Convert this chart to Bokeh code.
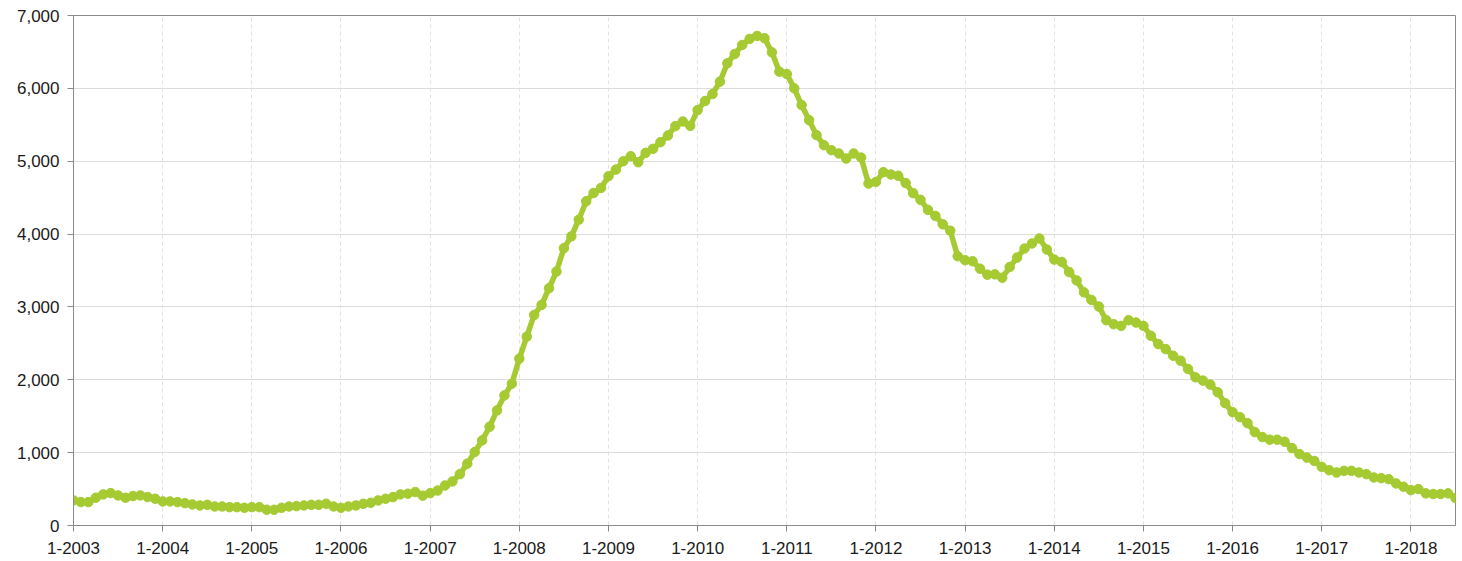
from bokeh.plotting import figure
from bokeh.models import Range1d, FixedTicker, NumeralTickFormatter, ColumnDataSource
from bokeh.embed import file_html
from bokeh.resources import INLINE

years = [str(y) for y in range(2003, 2019)]
tick_labels = ["1-" + y for y in years]

v2003 = [344, 321, 321, 381, 427, 445, 413, 381, 404, 413, 390, 367]
v2004 = [330, 330, 321, 307, 289, 275, 284, 261, 261, 252, 252, 243]
v2005 = [252, 252, 216, 216, 243, 261, 266, 275, 284, 284, 298, 261]
v2006 = [243, 261, 275, 298, 312, 344, 367, 390, 427, 436, 459, 410]
v2007 = [444, 480, 549, 604, 705, 848, 1008, 1168, 1356, 1580, 1786, 1947]
v2008 = [2290, 2592, 2890, 3028, 3257, 3486, 3807, 3968, 4197, 4450, 4564, 4633]
v2009 = [4794, 4885, 5000, 5069, 4986, 5115, 5170, 5261, 5353, 5482, 5545, 5486]
v2010 = [5702, 5826, 5922, 6092, 6344, 6472, 6596, 6679, 6720, 6688, 6495, 6229]
v2011 = [6197, 6000, 5771, 5564, 5358, 5220, 5151, 5106, 5037, 5106, 5050, 4693]
v2012 = [4716, 4850, 4818, 4800, 4700, 4562, 4470, 4332, 4249, 4134, 4046, 3696]
v2013 = [3641, 3627, 3525, 3442, 3447, 3401, 3548, 3677, 3802, 3871, 3940, 3788]
v2014 = [3650, 3618, 3479, 3364, 3200, 3096, 3005, 2818, 2763, 2740, 2818, 2786]
v2015 = [2740, 2604, 2490, 2421, 2330, 2262, 2148, 2034, 1989, 1934, 1829, 1679]
v2016 = [1556, 1487, 1405, 1282, 1214, 1178, 1178, 1150, 1062, 980, 932, 886]
v2017 = [805, 759, 727, 750, 750, 727, 705, 659, 650, 636, 577, 532]
v2018 = [486, 500, 441, 432, 432, 441, 377]

values = (v2003 + v2004 + v2005 + v2006 + v2007 + v2008 + v2009 + v2010 +
          v2011 + v2012 + v2013 + v2014 + v2015 + v2016 + v2017 + v2018)
months = list(range(len(values)))

src = ColumnDataSource(dict(x=months, y=values))

p = figure(frame_width=1382, frame_height=510, output_backend="svg",
           toolbar_location=None, x_range=Range1d(0, len(values) - 1),
           y_range=Range1d(0, 7000),
           min_border_left=73, min_border_top=15, min_border_right=6,
           min_border_bottom=34)

p.outline_line_color = "#8a8a8a"
p.outline_line_width = 1

color = "#a6ca32"
p.line("x", "y", source=src, line_color=color, line_width=5.5)
p.scatter("x", "y", source=src, size=9.5, fill_color=color, line_color=color)

tick_pos = [i * 12 for i in range(len(tick_labels))]
p.xaxis.ticker = FixedTicker(ticks=tick_pos)
p.xaxis.major_label_overrides = {t: l for t, l in zip(tick_pos, tick_labels)}
p.yaxis.ticker = FixedTicker(ticks=[0, 1000, 2000, 3000, 4000, 5000, 6000, 7000])
p.yaxis.formatter = NumeralTickFormatter(format="0,0")

for ax in (p.xaxis, p.yaxis):
    ax.axis_line_color = "#8a8a8a"
    ax.major_tick_line_color = "#8a8a8a"
    ax.minor_tick_line_color = None
    ax.major_tick_out = 6
    ax.major_tick_in = 0
    ax.major_label_text_font = "Liberation Sans"
    ax.major_label_text_font_size = "17px"
    ax.major_label_text_color = "#1a1a1a"
p.xaxis.major_label_standoff = 10
p.yaxis.major_label_standoff = 8

p.ygrid.grid_line_color = "#dcdcdc"
p.ygrid.grid_line_width = 1
p.xgrid.grid_line_color = "#e2e2e2"
p.xgrid.grid_line_dash = "4 3"
p.xgrid.grid_line_width = 1

open("out.html", "w").write(file_html(p, INLINE))
